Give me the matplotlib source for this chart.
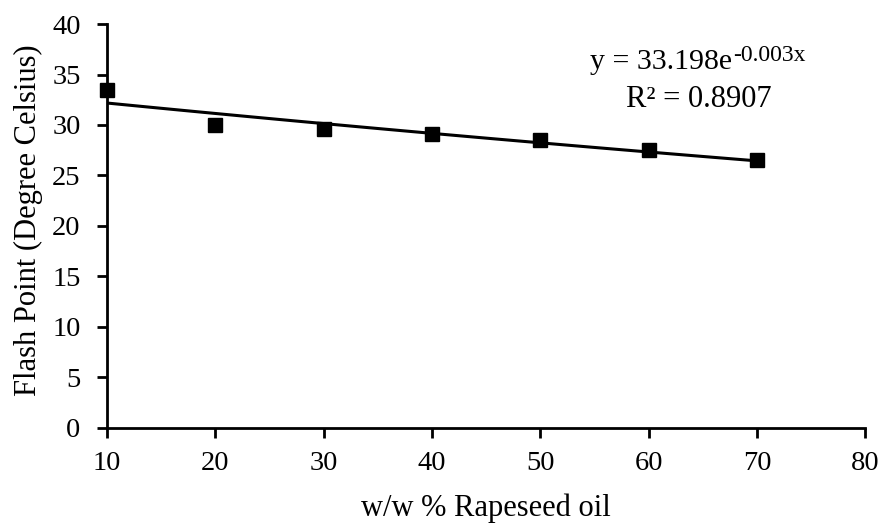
import matplotlib
matplotlib.use('Agg')
import matplotlib.pyplot as plt
import numpy as np

# data
rapeseed_pct = [10, 20, 30, 40, 50, 60, 70]
flash_point = [33.5, 30.0, 29.6, 29.1, 28.5, 27.5, 26.5]
x_ticks = [10, 20, 30, 40, 50, 60, 70, 80]
y_ticks = [0, 5, 10, 15, 20, 25, 30, 35, 40]

plt.rcParams['font.family'] = ['Liberation Serif', 'DejaVu Serif']

fig = plt.figure(figsize=(8.82, 5.23), dpi=100)
ax = fig.add_axes([0.1213, 0.182, 0.8597, 0.772])

# exponential trendline, fitted like Excel does (linear fit on ln y)
x = np.array(rapeseed_pct, dtype=float)
y = np.array(flash_point)
slope, ln_a = np.polyfit(x, np.log(y), 1)
x_fit = np.linspace(x.min(), x.max(), 50)
ax.plot(x_fit, np.exp(ln_a) * np.exp(slope * x_fit), color='black', lw=2.2, zorder=2)

ax.plot(rapeseed_pct, flash_point, 's', color='black', markersize=9.5, zorder=3, clip_on=False)

ax.set_xlim(10, 80)
ax.set_ylim(0, 40)
ax.set_xticks(x_ticks)
ax.set_yticks(y_ticks)
ax.spines['top'].set_visible(False)
ax.spines['right'].set_visible(False)
for s in ['left', 'bottom']:
    ax.spines[s].set_linewidth(2)
ax.tick_params(direction='out', length=7, width=2, labelsize=20.5)
ax.tick_params(axis='x', pad=10)
ax.tick_params(axis='y', pad=12)

ax.set_xlabel('w/w % Rapeseed oil', fontsize=22, labelpad=12)
ax.set_ylabel('Flash Point (Degree Celsius)', fontsize=22)
ax.yaxis.set_label_coords(-0.085, 0.514)

# trendline equation, superscript drawn as its own text
eq = ax.text(0.8245, 0.8885, 'y = 33.198e', transform=ax.transAxes,
             ha='right', va='baseline', fontsize=21.5)
ax.annotate('-0.003x', xy=(1.0, 0.0), xycoords=eq, xytext=(0.5, 10),
            textcoords='offset points', ha='left', va='baseline', fontsize=17)
ax.text(0.78, 0.794, 'R² = 0.8907', transform=ax.transAxes,
        ha='center', va='baseline', fontsize=22)

fig.savefig('out.png', dpi=100)
